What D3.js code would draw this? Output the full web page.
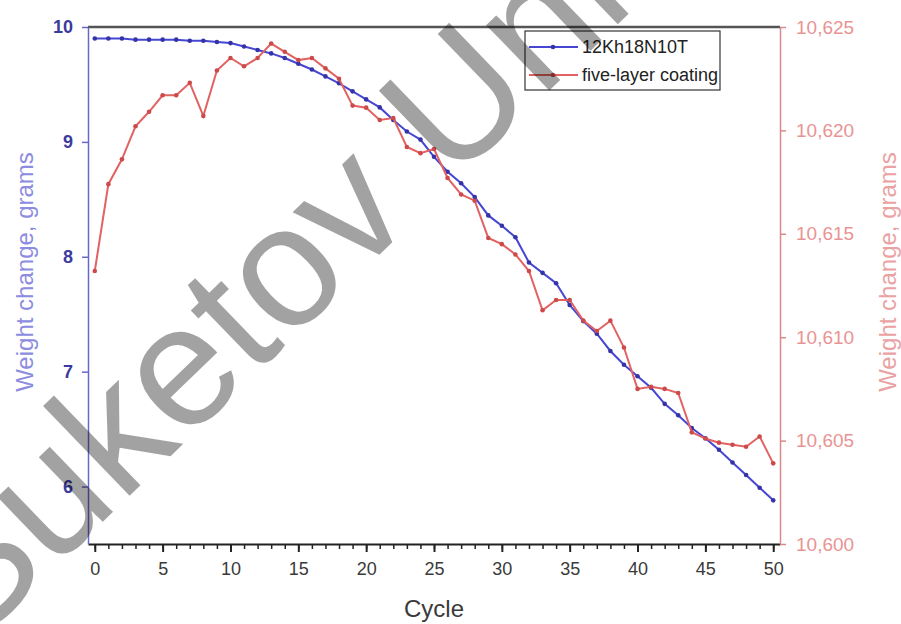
<!DOCTYPE html>
<html>
<head>
<meta charset="utf-8">
<script src="https://cdn.jsdelivr.net/npm/d3@7"></script>
<style>
  body { margin: 0; background: #fff; }
  svg { display: block; font-family: "Liberation Sans", Arial, sans-serif; }
</style>
</head>
<body>
<svg id="chart" width="901" height="624"></svg>
<script>
// cycles 0..50
const cycles = d3.range(0, 51);

// 12Kh18N10T, left axis (grams)
const steelWeight = [
  9.90, 9.90, 9.90, 9.89, 9.89, 9.89, 9.89, 9.88, 9.88, 9.87,
  9.86, 9.83, 9.80, 9.77, 9.73, 9.68, 9.63, 9.57, 9.51, 9.44,
  9.37, 9.30, 9.19, 9.09, 9.02, 8.87, 8.74, 8.64, 8.52, 8.36,
  8.27, 8.17, 7.95, 7.86, 7.77, 7.58, 7.44, 7.33, 7.18, 7.06,
  6.96, 6.86, 6.72, 6.62, 6.51, 6.42, 6.32, 6.21, 6.10, 5.99,
  5.88
];

// five-layer coating, right axis (grams)
const coatingWeight = [
  10.6132, 10.6174, 10.6186, 10.6202, 10.6209, 10.6217, 10.6217, 10.6223, 10.6207, 10.6229,
  10.6235, 10.6231, 10.6235, 10.6242, 10.6238, 10.6234, 10.6235, 10.6230, 10.6225, 10.6212,
  10.6211, 10.6205, 10.6206, 10.6192, 10.6189, 10.6191, 10.6177, 10.6169, 10.6166, 10.6148,
  10.6145, 10.6140, 10.6132, 10.6113, 10.6118, 10.6118, 10.6108, 10.6103, 10.6108, 10.6095,
  10.6075, 10.6076, 10.6075, 10.6073, 10.6054, 10.6051, 10.6049, 10.6048, 10.6047, 10.6052,
  10.6039
];

const xTicks = [0, 5, 10, 15, 20, 25, 30, 35, 40, 45, 50];
const leftTicks = [6, 7, 8, 9, 10];
const rightTicks = [10.600, 10.605, 10.610, 10.615, 10.620, 10.625];
const seriesNames = ["12Kh18N10T", "five-layer coating"];

const svg = d3.select("#chart");
const plotLeft = 88, plotRight = 780, plotTop = 27, plotBottom = 544;

const x = d3.scaleLinear().domain([-0.5, 50.5]).range([plotLeft, plotRight]);
const yL = d3.scaleLinear().domain([5.5, 10]).range([plotBottom, plotTop]);
const yR = d3.scaleLinear().domain([10.600, 10.625]).range([plotBottom, plotTop]);

const blue = "#4646d2", red = "#e26262";

// top frame line
svg.append("line")
  .attr("x1", plotLeft).attr("x2", plotRight).attr("y1", plotTop).attr("y2", plotTop)
  .attr("stroke", "#555").attr("stroke-width", 2.5);

// bottom axis, minor ticks then major ticks with labels
let xMinor = svg.append("g").attr("transform", `translate(0,${plotBottom})`)
  .call(d3.axisBottom(x).tickValues(cycles).tickSize(5).tickSizeOuter(0).tickFormat(""));
xMinor.select(".domain").remove();
xMinor.selectAll("line").attr("stroke", "#222").attr("stroke-width", 1.5);

let xAxis = svg.append("g").attr("transform", `translate(0,${plotBottom})`)
  .call(d3.axisBottom(x).tickValues(xTicks).tickSize(8).tickSizeOuter(0).tickPadding(10));
xAxis.select(".domain").attr("stroke", "#222").attr("stroke-width", 2);
xAxis.selectAll("line").attr("stroke", "#222").attr("stroke-width", 2);
xAxis.selectAll("text").attr("fill", "#3a3a3a").style("font-size", "18px");

// left axis
let yAxisL = svg.append("g").attr("transform", `translate(${plotLeft},0)`)
  .call(d3.axisLeft(yL).tickValues(leftTicks).tickSize(6).tickSizeOuter(0).tickPadding(9)
    .tickFormat(d3.format("d")));
yAxisL.select(".domain").attr("stroke", "#6868c8").attr("stroke-width", 1.5);
yAxisL.selectAll("line").attr("stroke", "#6868c8").attr("stroke-width", 1.5);
yAxisL.selectAll("text").attr("fill", "#3b3b9e").style("font-size", "18px").style("font-weight", "bold");

// right axis
let yAxisR = svg.append("g").attr("transform", `translate(${plotRight},0)`)
  .call(d3.axisRight(yR).tickValues(rightTicks).tickSize(6).tickSizeOuter(0).tickPadding(10)
    .tickFormat(d => d3.format(".3f")(d).replace(".", ",")));
yAxisR.select(".domain").attr("stroke", "#d88a8a").attr("stroke-width", 1.5);
yAxisR.selectAll("line").attr("stroke", "#d88a8a").attr("stroke-width", 1.5);
yAxisR.selectAll("text").attr("fill", "#e89494").style("font-size", "19px");

// axis titles
svg.append("text")
  .attr("transform", "translate(33,272) rotate(-90)")
  .attr("text-anchor", "middle")
  .attr("fill", "#8c8ce0")
  .style("font-size", "24px")
  .text("Weight change, grams");

svg.append("text")
  .attr("transform", "translate(896,272) rotate(-90)")
  .attr("text-anchor", "middle")
  .attr("fill", "#eaa2a2")
  .style("font-size", "24px")
  .text("Weight change, grams");

svg.append("text")
  .attr("x", 434).attr("y", 617)
  .attr("text-anchor", "middle")
  .attr("fill", "#3a3a3a")
  .style("font-size", "24px")
  .text("Cycle");

// series
const lineL = d3.line().x((d, i) => x(cycles[i])).y(d => yL(d));
const lineR = d3.line().x((d, i) => x(cycles[i])).y(d => yR(d));

svg.append("path").datum(steelWeight)
  .attr("d", lineL).attr("fill", "none").attr("stroke", blue).attr("stroke-width", 2);
svg.append("g").selectAll("circle").data(steelWeight).join("circle")
  .attr("cx", (d, i) => x(cycles[i])).attr("cy", d => yL(d))
  .attr("r", 2.3).attr("fill", "#3434a8");

svg.append("path").datum(coatingWeight)
  .attr("d", lineR).attr("fill", "none").attr("stroke", red).attr("stroke-width", 2);
svg.append("g").selectAll("circle").data(coatingWeight).join("circle")
  .attr("cx", (d, i) => x(cycles[i])).attr("cy", d => yR(d))
  .attr("r", 2.3).attr("fill", "#cc4a4a");

// legend
let legend = svg.append("g");
legend.append("rect")
  .attr("x", 525).attr("y", 31).attr("width", 195).attr("height", 59)
  .attr("fill", "#fff").attr("stroke", "#333").attr("stroke-width", 1.2);
let items = legend.selectAll("g.item").data(seriesNames).join("g")
  .attr("transform", (d, i) => `translate(0,${47 + i * 28})`);
items.append("line")
  .attr("x1", 529).attr("x2", 578)
  .attr("stroke", (d, i) => i === 0 ? blue : red).attr("stroke-width", 2);
items.append("circle")
  .attr("cx", 553).attr("r", 2.3)
  .attr("fill", (d, i) => i === 0 ? "#3434a8" : "#cc4a4a");
items.append("text")
  .attr("x", 582).attr("y", 6)
  .attr("fill", "#222")
  .style("font-size", "18px")
  .text(d => d);

// watermark, translucent so the lines darken under it
svg.append("text")
  .attr("transform", "translate(-30,650) rotate(-44)")
  .attr("fill", "#000")
  .attr("opacity", 0.36)
  .style("font-size", "172px")
  .text("Suketov University");
</script>
</body>
</html>
